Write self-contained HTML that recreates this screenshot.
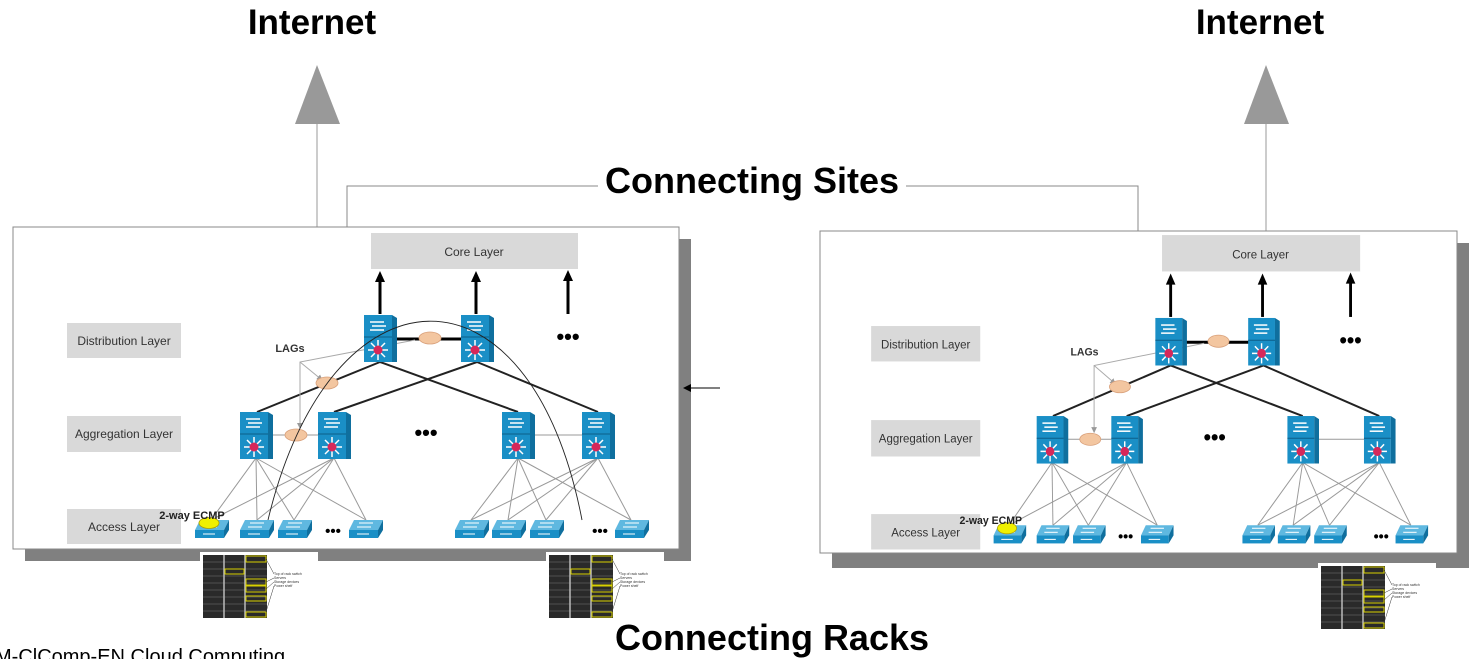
<!DOCTYPE html>
<html><head><meta charset="utf-8"><style>
html,body{margin:0;padding:0;background:#fff;}
svg{display:block;font-family:"Liberation Sans",sans-serif;}
</style></head><body>
<svg width="1480" height="659" viewBox="0 0 1480 659" xmlns="http://www.w3.org/2000/svg">
<defs>
<g id="tall">
 <rect x="0" y="0" width="28" height="47" fill="#1a8fc6"/>
 <polygon points="28,0 33,3 33,47 28,47" fill="#0f6f9e"/>
 <line x1="0" y1="22" x2="28" y2="22" stroke="#0c5f88" stroke-width="1"/>
 <line x1="6" y1="7" x2="20" y2="7" stroke="#fff" stroke-width="1.5"/>
 <line x1="8" y1="11" x2="22" y2="11" stroke="#fff" stroke-width="1.5"/>
 <line x1="6" y1="15" x2="20" y2="15" stroke="#fff" stroke-width="1.5"/>
 <g stroke="#fff" stroke-width="1.5">
  <line x1="14" y1="25" x2="14" y2="45"/><line x1="4" y1="35" x2="24" y2="35"/>
  <line x1="7" y1="28" x2="21" y2="42"/><line x1="21" y1="28" x2="7" y2="42"/>
 </g>
 <circle cx="14" cy="35" r="4.5" fill="#d6285a"/>
</g>
<g id="flat">
 <polygon points="5,0 34,0 29,10 0,10" fill="#5fb8e0"/>
 <rect x="0" y="10" width="29" height="8" fill="#1a8fc6"/>
 <polygon points="29,10 34,0 34,10 29,18" fill="#0f6f9e"/>
 <g stroke="#fff" stroke-width="1"><line x1="10" y1="3" x2="24" y2="3"/><line x1="8" y1="7" x2="22" y2="7"/><line x1="8" y1="14" x2="20" y2="14"/></g>
</g>
<g id="rack">
 <rect x="0" y="0" width="118" height="68" fill="#fff"/>
 <rect x="3" y="3" width="64" height="63" fill="#2a2a2a"/>
 <g stroke="#777" stroke-width="0.6">
  <line x1="3" y1="10" x2="67" y2="10"/><line x1="3" y1="17" x2="67" y2="17"/><line x1="3" y1="24" x2="67" y2="24"/><line x1="3" y1="31" x2="67" y2="31"/><line x1="3" y1="38" x2="67" y2="38"/><line x1="3" y1="45" x2="67" y2="45"/><line x1="3" y1="52" x2="67" y2="52"/><line x1="3" y1="59" x2="67" y2="59"/>
  <line x1="24" y1="3" x2="24" y2="66" stroke="#bbb" stroke-width="1.5"/><line x1="45" y1="3" x2="45" y2="66" stroke="#bbb" stroke-width="1.5"/>
 </g>
 <g fill="none" stroke="#d8d000" stroke-width="1">
  <rect x="46" y="4" width="20" height="6"/><rect x="25" y="17" width="19" height="5"/><rect x="46" y="27" width="20" height="6"/><rect x="46" y="34" width="20" height="6"/><rect x="46" y="44" width="20" height="5"/><rect x="46" y="60" width="20" height="5"/>
 </g>
 <g stroke="#333" stroke-width="0.5"><line x1="66" y1="7" x2="74" y2="22"/><line x1="66" y1="30" x2="74" y2="26"/><line x1="66" y1="37" x2="74" y2="30"/><line x1="66" y1="60" x2="74" y2="34"/></g>
 <text x="74" y="23" font-size="3.5" fill="#333">Top of rack switch</text>
 <text x="74" y="27" font-size="3.5" fill="#333">Servers</text>
 <text x="74" y="31" font-size="3.5" fill="#333">Storage devices</text>
 <text x="74" y="35" font-size="3.5" fill="#333">Power shelf</text>
</g>
<marker id="ah" markerWidth="8" markerHeight="8" refX="7" refY="4" orient="auto" markerUnits="userSpaceOnUse"><path d="M0,0 L8,4 L0,8 z" fill="#000"/></marker>
<marker id="ahg" markerWidth="6" markerHeight="6" refX="5" refY="3" orient="auto" markerUnits="userSpaceOnUse"><path d="M0,0 L6,3 L0,6 z" fill="#999"/></marker>
</defs>

<text x="312" y="34" font-size="35" font-weight="bold" text-anchor="middle">Internet</text>
<text x="1260" y="34" font-size="35" font-weight="bold" text-anchor="middle">Internet</text>
<polygon points="317,65 295,124 340,124" fill="#999"/>
<line x1="317" y1="124" x2="317" y2="228" stroke="#999" stroke-width="1"/>
<polygon points="1266,65 1244,124 1289,124" fill="#999"/>
<line x1="1266" y1="124" x2="1266" y2="232" stroke="#999" stroke-width="1"/>
<polyline points="347,228 347,186 1138,186 1138,232" fill="none" stroke="#888" stroke-width="1"/>

<rect x="25" y="239" width="666" height="322" fill="#808080"/>
<rect x="13" y="227" width="666" height="322" fill="#fff" stroke="#888" stroke-width="1"/>
<g>
 <rect x="371" y="233" width="207" height="36" fill="#d9d9d9"/>
 <text x="474" y="256" font-size="12" text-anchor="middle" fill="#333">Core Layer</text>
 <rect x="67" y="323" width="114" height="35" fill="#d9d9d9"/>
 <text x="124" y="345" font-size="12" text-anchor="middle" fill="#333">Distribution Layer</text>
 <rect x="67" y="416" width="114" height="36" fill="#d9d9d9"/>
 <text x="124" y="438" font-size="12" text-anchor="middle" fill="#333">Aggregation Layer</text>
 <rect x="67" y="509" width="114" height="35" fill="#d9d9d9"/>
 <text x="124" y="531" font-size="12" text-anchor="middle" fill="#333">Access Layer</text>
 <g stroke="#000" stroke-width="3">
  <line x1="380" y1="314" x2="380" y2="278"/><line x1="476" y1="314" x2="476" y2="278"/><line x1="568" y1="314" x2="568" y2="278"/>
 </g>
 <polygon points="380,271 375,282 385,282"/><polygon points="476,271 471,282 481,282"/><polygon points="568,270 563,281 573,281"/>
 <text x="568" y="344" font-size="22" font-weight="bold" text-anchor="middle">•••</text>
 <text x="426" y="440" font-size="22" font-weight="bold" text-anchor="middle">•••</text>
 <g stroke="#999" stroke-width="1">
  <line x1="256" y1="458" x2="211" y2="520"/><line x1="256" y1="458" x2="257" y2="520"/><line x1="256" y1="458" x2="294" y2="520"/><line x1="256" y1="458" x2="366" y2="520"/>
  <line x1="334" y1="458" x2="211" y2="520"/><line x1="334" y1="458" x2="257" y2="520"/><line x1="334" y1="458" x2="294" y2="520"/><line x1="334" y1="458" x2="366" y2="520"/>
  <line x1="518" y1="458" x2="471" y2="520"/><line x1="518" y1="458" x2="508" y2="520"/><line x1="518" y1="458" x2="546" y2="520"/><line x1="518" y1="458" x2="631" y2="520"/>
  <line x1="598" y1="458" x2="471" y2="520"/><line x1="598" y1="458" x2="508" y2="520"/><line x1="598" y1="458" x2="546" y2="520"/><line x1="598" y1="458" x2="631" y2="520"/>
  <line x1="270" y1="435" x2="320" y2="435"/><line x1="533" y1="435" x2="584" y2="435"/>
 </g>
 <g stroke="#222" stroke-width="2">
  <line x1="380" y1="362" x2="257" y2="412"/><line x1="380" y1="362" x2="518" y2="412"/>
  <line x1="477" y1="362" x2="334" y2="412"/><line x1="477" y1="362" x2="598" y2="412"/>
 </g>
 <line x1="394" y1="339" x2="463" y2="339" stroke="#000" stroke-width="3"/>
 <g stroke="#aaa" stroke-width="1" fill="none">
  <polyline points="415,340 300,362 300,428" marker-end="url(#ahg)"/>
  <line x1="300" y1="362" x2="322" y2="380" marker-end="url(#ahg)"/>
 </g>
 <ellipse cx="430" cy="338" rx="11" ry="6" fill="#f3c6a0" stroke="#d9a07a" stroke-width="0.8"/>
 <ellipse cx="327" cy="383" rx="11" ry="6" fill="#f3c6a0" stroke="#d9a07a" stroke-width="0.8"/>
 <ellipse cx="296" cy="435" rx="11" ry="6" fill="#f3c6a0" stroke="#d9a07a" stroke-width="0.8"/>
 <text x="290" y="352" font-size="11" font-weight="bold" text-anchor="middle" fill="#333">LAGs</text>
 <use href="#tall" x="364" y="315"/><use href="#tall" x="461" y="315"/>
 <use href="#tall" x="240" y="412"/><use href="#tall" x="318" y="412"/>
 <use href="#tall" x="502" y="412"/><use href="#tall" x="582" y="412"/>
 <path d="M268,520 C330,260 530,250 582,520" fill="none" stroke="#222" stroke-width="0.9"/>
 <use href="#flat" x="195" y="520"/><use href="#flat" x="240" y="520"/><use href="#flat" x="278" y="520"/><use href="#flat" x="349" y="520"/>
 <use href="#flat" x="455" y="520"/><use href="#flat" x="492" y="520"/><use href="#flat" x="530" y="520"/><use href="#flat" x="615" y="520"/>
 <text x="333" y="536" font-size="15" font-weight="bold" text-anchor="middle">•••</text>
 <text x="600" y="536" font-size="15" font-weight="bold" text-anchor="middle">•••</text>
 <ellipse cx="209" cy="523" rx="10" ry="5.5" fill="#f0f000" stroke="#b0a000" stroke-width="0.8"/>
 <text x="192" y="519" font-size="11" font-weight="bold" text-anchor="middle" fill="#222">2-way ECMP</text>
</g>
<use href="#rack" x="200" y="552"/>
<use href="#rack" x="546" y="552"/>

<line x1="720" y1="388" x2="684" y2="388" stroke="#000" stroke-width="1" marker-end="url(#ah)"/>

<rect x="832" y="243" width="637" height="325" fill="#808080"/>
<rect x="820" y="231" width="637" height="322" fill="#fff" stroke="#888" stroke-width="1"/>
<g transform="translate(807,-0.5) scale(0.957,1.011)">
 <rect x="371" y="233" width="207" height="36" fill="#d9d9d9"/>
 <text x="474" y="256" font-size="12" text-anchor="middle" fill="#333">Core Layer</text>
 <rect x="67" y="323" width="114" height="35" fill="#d9d9d9"/>
 <text x="124" y="345" font-size="12" text-anchor="middle" fill="#333">Distribution Layer</text>
 <rect x="67" y="416" width="114" height="36" fill="#d9d9d9"/>
 <text x="124" y="438" font-size="12" text-anchor="middle" fill="#333">Aggregation Layer</text>
 <rect x="67" y="509" width="114" height="35" fill="#d9d9d9"/>
 <text x="124" y="531" font-size="12" text-anchor="middle" fill="#333">Access Layer</text>
 <g stroke="#000" stroke-width="3">
  <line x1="380" y1="314" x2="380" y2="278"/><line x1="476" y1="314" x2="476" y2="278"/><line x1="568" y1="314" x2="568" y2="278"/>
 </g>
 <polygon points="380,271 375,282 385,282"/><polygon points="476,271 471,282 481,282"/><polygon points="568,270 563,281 573,281"/>
 <text x="568" y="344" font-size="22" font-weight="bold" text-anchor="middle">•••</text>
 <text x="426" y="440" font-size="22" font-weight="bold" text-anchor="middle">•••</text>
 <g stroke="#999" stroke-width="1">
  <line x1="256" y1="458" x2="211" y2="520"/><line x1="256" y1="458" x2="257" y2="520"/><line x1="256" y1="458" x2="294" y2="520"/><line x1="256" y1="458" x2="366" y2="520"/>
  <line x1="334" y1="458" x2="211" y2="520"/><line x1="334" y1="458" x2="257" y2="520"/><line x1="334" y1="458" x2="294" y2="520"/><line x1="334" y1="458" x2="366" y2="520"/>
  <line x1="518" y1="458" x2="471" y2="520"/><line x1="518" y1="458" x2="508" y2="520"/><line x1="518" y1="458" x2="546" y2="520"/><line x1="518" y1="458" x2="631" y2="520"/>
  <line x1="598" y1="458" x2="471" y2="520"/><line x1="598" y1="458" x2="508" y2="520"/><line x1="598" y1="458" x2="546" y2="520"/><line x1="598" y1="458" x2="631" y2="520"/>
  <line x1="270" y1="435" x2="320" y2="435"/><line x1="533" y1="435" x2="584" y2="435"/>
 </g>
 <g stroke="#222" stroke-width="2">
  <line x1="380" y1="362" x2="257" y2="412"/><line x1="380" y1="362" x2="518" y2="412"/>
  <line x1="477" y1="362" x2="334" y2="412"/><line x1="477" y1="362" x2="598" y2="412"/>
 </g>
 <line x1="394" y1="339" x2="463" y2="339" stroke="#000" stroke-width="3"/>
 <g stroke="#aaa" stroke-width="1" fill="none">
  <polyline points="415,340 300,362 300,428" marker-end="url(#ahg)"/>
  <line x1="300" y1="362" x2="322" y2="380" marker-end="url(#ahg)"/>
 </g>
 <ellipse cx="430" cy="338" rx="11" ry="6" fill="#f3c6a0" stroke="#d9a07a" stroke-width="0.8"/>
 <ellipse cx="327" cy="383" rx="11" ry="6" fill="#f3c6a0" stroke="#d9a07a" stroke-width="0.8"/>
 <ellipse cx="296" cy="435" rx="11" ry="6" fill="#f3c6a0" stroke="#d9a07a" stroke-width="0.8"/>
 <text x="290" y="352" font-size="11" font-weight="bold" text-anchor="middle" fill="#333">LAGs</text>
 <use href="#tall" x="364" y="315"/><use href="#tall" x="461" y="315"/>
 <use href="#tall" x="240" y="412"/><use href="#tall" x="318" y="412"/>
 <use href="#tall" x="502" y="412"/><use href="#tall" x="582" y="412"/>
 <use href="#flat" x="195" y="520"/><use href="#flat" x="240" y="520"/><use href="#flat" x="278" y="520"/><use href="#flat" x="349" y="520"/>
 <use href="#flat" x="455" y="520"/><use href="#flat" x="492" y="520"/><use href="#flat" x="530" y="520"/><use href="#flat" x="615" y="520"/>
 <text x="333" y="536" font-size="15" font-weight="bold" text-anchor="middle">•••</text>
 <text x="600" y="536" font-size="15" font-weight="bold" text-anchor="middle">•••</text>
 <ellipse cx="209" cy="523" rx="10" ry="5.5" fill="#f0f000" stroke="#b0a000" stroke-width="0.8"/>
 <text x="192" y="519" font-size="11" font-weight="bold" text-anchor="middle" fill="#222">2-way ECMP</text>
</g>
<use href="#rack" x="1318" y="563"/>

<rect x="598" y="160" width="308" height="40" fill="#fff"/>
<text x="752" y="193" font-size="36" font-weight="bold" text-anchor="middle">Connecting Sites</text>
<text x="772" y="650" font-size="36" font-weight="bold" text-anchor="middle">Connecting Racks</text>
<text x="-5" y="663" font-size="20">M-ClComp-EN Cloud Computing</text>
</svg>
</body></html>
